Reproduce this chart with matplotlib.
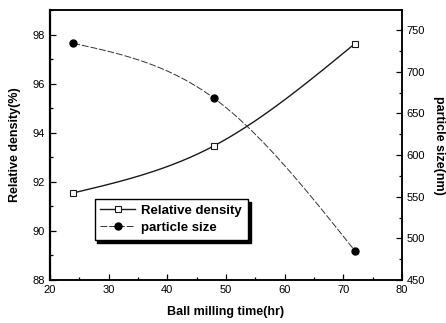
import numpy as np
import matplotlib.pyplot as plt
from matplotlib.ticker import MultipleLocator

plt.rcParams['font.family'] = ['Liberation Sans', 'DejaVu Sans']

# data
milling_time = [24, 48, 72]
relative_density = [91.55, 93.47, 97.63]
particle_size = [734, 668, 485]


def smoothLine(x, y, n=150):
    # natural cubic spline connector (Origin "spline" line look)
    x = np.asarray(x, float)
    y = np.asarray(y, float)
    k = len(x)
    h = np.diff(x)
    A = np.zeros((k, k))
    r = np.zeros(k)
    A[0, 0] = A[-1, -1] = 1
    for i in range(1, k - 1):
        A[i, i - 1] = h[i - 1]
        A[i, i] = 2 * (h[i - 1] + h[i])
        A[i, i + 1] = h[i]
        r[i] = 6 * ((y[i + 1] - y[i]) / h[i] - (y[i] - y[i - 1]) / h[i - 1])
    M = np.linalg.solve(A, r)
    xs = np.linspace(x[0], x[-1], n)
    idx = np.clip(np.searchsorted(x, xs) - 1, 0, k - 2)
    x0, x1, y0, y1 = x[idx], x[idx + 1], y[idx], y[idx + 1]
    hh = x1 - x0
    M0, M1 = M[idx], M[idx + 1]
    ys = (M0 * (x1 - xs) ** 3 + M1 * (xs - x0) ** 3) / (6 * hh) \
        + (y0 / hh - M0 * hh / 6) * (x1 - xs) + (y1 / hh - M1 * hh / 6) * (xs - x0)
    return xs, ys


fig = plt.figure(figsize=(4.46, 3.23), dpi=100)
ax = fig.add_axes([0.112, 0.133, 0.789, 0.836])
ax2 = ax.twinx()

xs, ys = smoothLine(milling_time, relative_density)
ax.plot(xs, ys, color='#1a1a1a', lw=1.0)
ax.plot(milling_time, relative_density, ls='none', marker='s', ms=4.5,
        mfc='white', mec='#1a1a1a', mew=0.8)

xs2, ys2 = smoothLine(milling_time, particle_size)
ax2.plot(xs2, ys2, color='#333333', lw=0.7, ls=(0, (7, 2)))
ax2.plot(milling_time, particle_size, ls='none', marker='o', ms=5,
         mfc='black', mec='black')

ax.set_xlim(20, 80)
ax.set_ylim(88, 99)
ax2.set_ylim(450, 774)

ax.xaxis.set_major_locator(MultipleLocator(10))
ax.xaxis.set_minor_locator(MultipleLocator(5))
ax.yaxis.set_major_locator(MultipleLocator(2))
ax.yaxis.set_minor_locator(MultipleLocator(1))
ax2.yaxis.set_major_locator(MultipleLocator(50))
ax2.yaxis.set_minor_locator(MultipleLocator(25))

for a in (ax, ax2):
    a.tick_params(which='both', direction='in', labelsize=8, width=0.9)
    a.tick_params(which='major', length=4)
    a.tick_params(which='minor', length=2)
    for s in a.spines.values():
        s.set_linewidth(1.1)
ax.tick_params(top=False, right=False)
ax.spines['left'].set_linewidth(1.6)

ax.set_xlabel('Ball milling time(hr)', fontsize=9, fontweight='bold', labelpad=8)
ax.set_ylabel('Relative density(%)', fontsize=9, fontweight='bold', labelpad=8)
ax2.set_ylabel('particle size(nm)', fontsize=9, fontweight='bold',
               rotation=-90, labelpad=14)

h1, = ax.plot([], [], color='#1a1a1a', lw=1.0, marker='s', ms=4.5,
              mfc='white', mec='#1a1a1a', mew=0.8)
h2, = ax.plot([], [], color='#333333', lw=0.7, ls=(0, (7, 2)), marker='o',
              ms=5, mfc='black', mec='black')
leg = ax.legend([h1, h2], ['Relative density', 'particle size'],
                loc='upper left', bbox_to_anchor=(0.108, 0.325),
                fancybox=False, shadow={'color': 'black', 'alpha': 1},
                framealpha=1, edgecolor='black',
                prop={'weight': 'bold', 'size': 9.5}, handlelength=2.6,
                handletextpad=0.5, borderpad=0.45, labelspacing=0.35)
leg.get_frame().set_linewidth(1.0)

fig.savefig('out.png', dpi=100)
